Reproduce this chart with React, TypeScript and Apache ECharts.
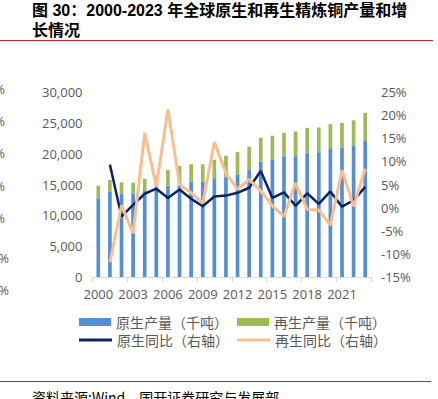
import React, { useEffect, useRef } from "react";
import * as echarts from "echarts";

const years = [
  "2000", "2001", "2002", "2003", "2004", "2005", "2006", "2007", "2008", "2009", "2010", "2011",
  "2012", "2013", "2014", "2015", "2016", "2017", "2018", "2019", "2020", "2021", "2022", "2023",
];
const primaryOutput = [
  12760, 13820, 13510, 13570, 13950, 14510, 14790, 14900, 15450, 15450, 15890, 16260,
  16670, 17350, 18700, 18970, 19590, 19590, 20160, 20220, 20870, 20950, 21280, 22170,
];
const secondaryOutput = [
  2045, 1910, 1850, 1720, 1990, 1980, 2560, 3100, 2840, 2840, 3130, 3410,
  3570, 3780, 3870, 3940, 3810, 4000, 4030, 4020, 3910, 4050, 4130, 4460,
];
const primaryYoY = [
  null, 9.3, -1.9, 0.6, 3.0, 4.1, 2.1, 3.9, 1.9, 0.3, 2.4, 2.6,
  3.2, 4.3, 7.9, 2.1, 3.3, 0.4, 3.1, 0.8, 3.5, 0.2, 1.6, 4.5,
];
const secondaryYoY = [
  null, -11.8, 0.5, -5.6, 16.2, 4.6, 21.3, 5.0, 3.2, 1.0, 14.2, 7.4,
  4.0, 6.1, 3.6, 0.4, -1.9, 5.3, -0.4, -0.5, -3.8, 8.1, 0.3, 8.4,
];
const seriesNames = ["原生产量（千吨）", "再生产量（千吨）", "原生同比（右轴）", "再生同比（右轴）"];
const titleLines = ["图 30：2000-2023 年全球原生和再生精炼铜产量和增", "长情况"];
const sourceText = "资料来源:Wind，国开证券研究与发展部";
const ghostLabels = ["25%", "20%", "15%", "10%", "5%", "-5%", "-10%"];

const BLUE = "#558ED5";
const GREEN = "#9BBB59";
const NAVY = "#0B2461";
const ORANGE = "#F9BF8F";
const GRAY = "#595959";
const RED = "#C0282E";
const LATIN = "'Open Sans', 'Noto Sans CJK SC', sans-serif";
const CJK = "'Noto Sans CJK SC', sans-serif";

export default function App() {
  const ref = useRef<HTMLDivElement>(null);
  useEffect(() => {
    if (!ref.current) return;
    const chart = echarts.init(ref.current, null, { renderer: "svg" });
    const ghostY = [89, 121, 153, 186, 218, 258, 290];
    const option: any = {
      animation: false,
      backgroundColor: "#ffffff",
      grid: { left: 92.5, right: 67, top: 92, bottom: 122, containLabel: false },
      xAxis: {
        type: "category",
        data: years,
        boundaryGap: true,
        axisLine: { show: true, lineStyle: { color: "#D9D9D9", width: 1 } },
        axisTick: { show: true, interval: 2, length: 5, lineStyle: { color: "#D9D9D9" } },
        axisLabel: { interval: 2, color: GRAY, fontSize: 13, fontFamily: LATIN, margin: 10 },
        splitLine: { show: false },
      },
      yAxis: [
        {
          type: "value",
          min: 0,
          max: 30000,
          interval: 5000,
          axisLine: { show: false },
          axisTick: { show: false },
          splitLine: { show: false },
          axisLabel: {
            color: GRAY,
            fontSize: 13,
            fontFamily: LATIN,
            margin: 10,
            formatter: (v: number) => v.toLocaleString("en-US"),
          },
        },
        {
          type: "value",
          min: -15,
          max: 25,
          interval: 5,
          position: "right",
          axisLine: { show: false },
          axisTick: { show: false },
          splitLine: { show: false },
          axisLabel: { color: GRAY, fontSize: 13, fontFamily: LATIN, margin: 10, formatter: "{value}%" },
        },
      ],
      legend: [
        {
          data: [seriesNames[0], seriesNames[1]],
          left: 74,
          top: 310,
          icon: "rect",
          itemWidth: 32,
          itemHeight: 8,
          itemGap: 9,
          textStyle: { color: GRAY, fontSize: 14, fontFamily: CJK },
        },
        {
          data: [seriesNames[2], seriesNames[3]],
          left: 74,
          top: 328,
          icon: "rect",
          itemWidth: 33,
          itemHeight: 3,
          itemGap: 8,
          textStyle: { color: GRAY, fontSize: 14, fontFamily: CJK },
        },
      ],
      series: [
        {
          name: seriesNames[0],
          type: "bar",
          stack: "out",
          barWidth: 3.7,
          data: primaryOutput,
          itemStyle: { color: BLUE },
        },
        {
          name: seriesNames[1],
          type: "bar",
          stack: "out",
          barWidth: 3.7,
          data: secondaryOutput,
          itemStyle: { color: GREEN },
        },
        {
          name: seriesNames[2],
          type: "line",
          yAxisIndex: 1,
          data: primaryYoY,
          symbol: "none",
          z: 3,
          itemStyle: { color: NAVY },
          lineStyle: { color: NAVY, width: 2.5 },
        },
        {
          name: seriesNames[3],
          type: "line",
          yAxisIndex: 1,
          data: secondaryYoY,
          symbol: "none",
          z: 4,
          itemStyle: { color: ORANGE },
          lineStyle: { color: ORANGE, width: 3 },
        },
      ],
      graphic: [
        {
          type: "text",
          left: 32,
          top: 2,
          style: {
            text: titleLines[0],
            fill: "#000000",
            font: "bold 16px 'Liberation Sans', 'Noto Sans CJK SC', sans-serif",
          },
        },
        {
          type: "text",
          left: 32,
          top: 22,
          style: {
            text: titleLines[1],
            fill: "#000000",
            font: "bold 16px 'Liberation Sans', 'Noto Sans CJK SC', sans-serif",
          },
        },
        {
          type: "line",
          shape: { x1: 0, y1: 40.5, x2: 433, y2: 40.5 },
          style: { stroke: RED, lineWidth: 1 },
        },
        {
          type: "line",
          shape: { x1: 0, y1: 381.5, x2: 431, y2: 381.5 },
          style: { stroke: RED, lineWidth: 1 },
        },
        {
          type: "text",
          left: 32,
          top: 390,
          style: { text: sourceText, fill: "#000000", font: "14px 'Noto Sans CJK SC', sans-serif" },
        },
        ...ghostLabels.map((t, i) => ({
          type: "text",
          x: i < 5 ? 5 : 9,
          y: ghostY[i],
          style: {
            text: t,
            fill: GRAY,
            font: "13px 'Open Sans', sans-serif",
            textAlign: "right",
            textVerticalAlign: "middle",
          },
        })),
      ],
    };
    chart.setOption(option);
    return () => chart.dispose();
  }, []);
  return (
    <div
      ref={ref}
      style={{ position: "absolute", left: 0, top: 0, width: 438, height: 399, background: "#fff" }}
    />
  );
}
